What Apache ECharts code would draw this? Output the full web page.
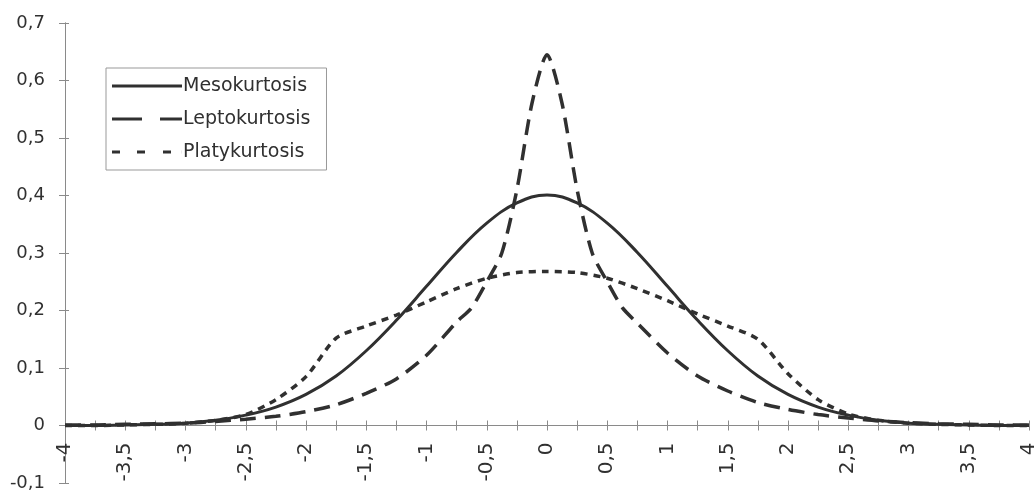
<!DOCTYPE html>
<html>
<head>
<meta charset="utf-8">
<script src="https://cdn.jsdelivr.net/npm/echarts@6/dist/echarts.min.js"></script>
<style>html,body{margin:0;padding:0;background:#fff;}#c{width:1036px;height:495px;}</style>
</head>
<body>
<div id="c"></div>
<script>
const seriesNames = ['Mesokurtosis', 'Leptokurtosis', 'Platykurtosis'];
const xs = [-4,-3.75,-3.5,-3.25,-3,-2.75,-2.5,-2.25,-2,-1.75,-1.5,-1.25,-1,-0.75,-0.5,-0.25,0,0.25,0.5,0.75,1,1.25,1.5,1.75,2,2.25,2.5,2.75,3,3.25,3.5,3.75,4];
const meso = [0.000,0.000,0.001,0.002,0.004,0.009,0.018,0.032,0.054,0.086,0.130,0.183,0.242,0.301,0.352,0.387,0.401,0.387,0.352,0.301,0.242,0.183,0.130,0.086,0.054,0.032,0.018,0.009,0.004,0.002,0.001,0.000,0.000];
const platy = [0.000,0.000,0.001,0.002,0.004,0.009,0.019,0.045,0.085,0.152,0.173,0.192,0.215,0.238,0.256,0.266,0.268,0.266,0.256,0.238,0.217,0.194,0.173,0.150,0.090,0.045,0.020,0.009,0.004,0.002,0.001,0.000,0.000];
const xsLepto = [-4,-3.75,-3.5,-3.25,-3,-2.75,-2.5,-2.25,-2,-1.75,-1.5,-1.25,-1,-0.75,-0.625,-0.5,-0.375,-0.25,-0.125,0,0.125,0.25,0.375,0.5,0.625,0.75,1,1.25,1.5,1.75,2,2.25,2.5,2.75,3,3.25,3.5,3.75,4];
const lepto = [0.001,0.001,0.002,0.003,0.004,0.007,0.011,0.016,0.024,0.036,0.056,0.081,0.122,0.180,0.205,0.250,0.300,0.410,0.560,0.645,0.560,0.410,0.300,0.250,0.205,0.178,0.126,0.086,0.060,0.040,0.028,0.019,0.013,0.008,0.005,0.003,0.002,0.001,0.001];
const xTickStep = 0.25, xLabelStep = 0.5;
const yMin = -0.1, yMax = 0.7, yStep = 0.1;

const pairs = (x, y) => x.map((v, i) => [v, y[i]]);
const fmt = v => String(Math.round(v * 100) / 100).replace('.', ',');
const ink = '#303030', axisCol = '#8a8a8a';
const FONT = 'DejaVu Sans';
const GRID = {left: 65, right: 7, top: 23, bottom: 12};
// pixel distance from the grid bottom (y = yMin) up to y = 0
const zeroOffset = -(495 - GRID.top - GRID.bottom) * (0 - yMin) / (yMax - yMin);

// legend sample glyphs (solid, long dash, short dash), drawn as filled bars
const legendIcons = [
  'path://M0,0H70V3H0Z',
  'path://M0,0H30V3H0Z M48,0H70V3H48Z',
  'path://M0,0H8V3H0Z M25,0H33V3H25Z M51,0H59V3H51Z M69.9,0H70V3H69.9Z'
];

const chart = echarts.init(document.getElementById('c'), null, {renderer: 'canvas'});
const baseX = {
  type: 'value', min: -4, max: 4, interval: xTickStep,
  position: 'bottom', offset: zeroOffset,
  axisLine: {onZero: false, lineStyle: {color: axisCol, width: 1}},
  splitLine: {show: false}
};
const baseY = {
  type: 'value', min: yMin, max: yMax, interval: yStep,
  position: 'left',
  axisLine: {show: true, onZero: false, lineStyle: {color: axisCol, width: 1}},
  splitLine: {show: false}
};
chart.setOption({
  animation: false,
  backgroundColor: '#fff',
  grid: Object.assign({outerBoundsMode: 'none', containLabel: false}, GRID),
  legend: {
    orient: 'vertical', left: 106, top: 68,
    data: seriesNames.map((n, i) => ({name: n, icon: legendIcons[i]})),
    itemWidth: 70, itemHeight: 3, itemGap: 13,
    padding: [8, 16, 8, 6],
    borderColor: '#999', borderWidth: 1,
    textStyle: {fontFamily: FONT, fontSize: 19, color: ink, lineHeight: 20, padding: [0,0,0,-4]},
    itemStyle: {color: ink, borderWidth: 0}
  },
  xAxis: [
    Object.assign({}, baseX, {
      axisTick: {show: true, length: 5, lineStyle: {color: axisCol}},
      axisLabel: {
        rotate: 90, margin: 17, fontFamily: FONT, fontSize: 20, color: ink,
        formatter: v => (Math.abs(Math.round(v / xLabelStep) * xLabelStep - v) < 1e-6 ? fmt(v) : '')
      }
    }),
    Object.assign({}, baseX, {
      axisTick: {show: true, inside: true, length: 5, lineStyle: {color: axisCol}},
      axisLabel: {show: false}
    })
  ],
  yAxis: [
    Object.assign({}, baseY, {
      axisTick: {show: true, length: 6, lineStyle: {color: axisCol}},
      axisLabel: {margin: 20, fontFamily: FONT, fontSize: 18, color: ink, formatter: fmt}
    }),
    Object.assign({}, baseY, {
      axisTick: {show: true, inside: true, length: 4, lineStyle: {color: axisCol}},
      axisLabel: {show: false}
    })
  ],
  series: [
    {name: seriesNames[0], type: 'line', data: pairs(xs, meso), symbol: 'none', smooth: 0.4,
     lineStyle: {color: ink, width: 3, type: 'solid'}, itemStyle: {color: ink}},
    {name: seriesNames[1], type: 'line', data: pairs(xsLepto, lepto), symbol: 'none', smooth: 0.25,
     lineStyle: {color: ink, width: 3.5, type: [16, 9]}, itemStyle: {color: ink}},
    {name: seriesNames[2], type: 'line', data: pairs(xs, platy), symbol: 'none', smooth: 0.25,
     lineStyle: {color: ink, width: 3.5, type: [7, 6]}, itemStyle: {color: ink}}
  ]
});
</script>
</body>
</html>
